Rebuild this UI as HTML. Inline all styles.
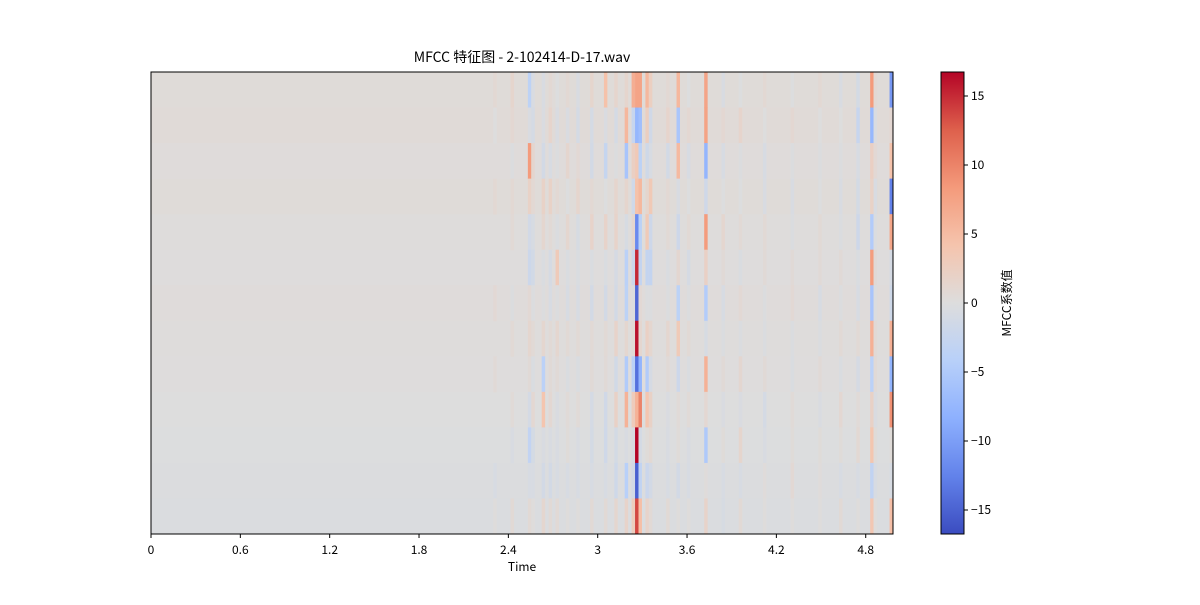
<!DOCTYPE html>
<html><head><meta charset="utf-8">
<style>
body{margin:0;background:#fff;}
svg text{font-family:"WenQuanYi Zen Hei","Noto Sans CJK SC",sans-serif;fill:#000;}
</style></head>
<body>
<svg id="chart" width="1200" height="600" xmlns="http://www.w3.org/2000/svg">
<defs>
<linearGradient id="cbgrad" x1="0" y1="1" x2="0" y2="0">
<stop offset="0" stop-color="rgb(59,76,192)"/>
<stop offset="0.125" stop-color="rgb(98,130,234)"/>
<stop offset="0.25" stop-color="rgb(141,176,254)"/>
<stop offset="0.375" stop-color="rgb(184,208,249)"/>
<stop offset="0.5" stop-color="rgb(221,221,221)"/>
<stop offset="0.625" stop-color="rgb(245,196,173)"/>
<stop offset="0.75" stop-color="rgb(244,154,123)"/>
<stop offset="0.875" stop-color="rgb(222,96,76)"/>
<stop offset="1" stop-color="rgb(180,4,38)"/>
</linearGradient>
</defs>
<text x="522" y="62" font-size="14" text-anchor="middle">MFCC 特征图 - 2-102414-D-17.wav</text>
<g id="heat"></g>
<rect x="151" y="72" width="742" height="462" fill="none" stroke="#000" stroke-width="1"/>
<g id="xaxis"></g>
<text x="522" y="571" font-size="12" text-anchor="middle">Time</text>
<rect x="941" y="72" width="23" height="462" fill="url(#cbgrad)" stroke="#000" stroke-width="1"/>
<g id="cbaxis"></g>
<text transform="translate(1011,303) rotate(-90)" font-size="12" text-anchor="middle">MFCC系数值</text>
</svg>
<script>
// data
const xTicks = [0, 0.6, 1.2, 1.8, 2.4, 3.0, 3.6, 4.2, 4.8];
const xTickLabels = ["0","0.6","1.2","1.8","2.4","3","3.6","4.2","4.8"];
const cbTicks = [15, 10, 5, 0, -5, -10, -15];
const vmin = -16.74, vmax = 16.74;
const frameDur = 0.02322;
const nFrames = 214;
const nRows = 13;
// display rows top -> bottom; baseline tint per row
const rowBase = [0.4, 0.5, 0.3, 0.4, 0.2, 0.1, 0.3, 0.2, 0.1, 0.0, -0.1, -0.2, -0.3];
// notable time columns (seconds) and their values per row (top -> bottom)
const eventTimes = [2.29, 2.41, 2.52, 2.55, 2.62, 2.66, 2.72, 2.78, 2.85, 2.94, 3.05, 3.12, 3.17, 3.22, 3.25, 3.28, 3.31, 3.35, 3.45, 3.53, 3.6, 3.71, 3.82, 3.95, 4.1, 4.3, 4.48, 4.62, 4.74, 4.82, 4.86, 4.97];
const eventVals = [
 [0.5,-0.5,0,0.5,0,0,0.5,0,0.5,0,0,-0.5,0.5],
 [1,0.5,-0.5,0.5,0.5,0,-0.5,0.5,0,0.5,-0.5,0,1],
 [-4,-1,8,1.5,-1.5,-2,0.5,1,0.5,-1,-3,-0.5,1],
 [-1,-1.5,1,0.5,-1,-1.5,-0.5,0.5,-0.5,1,-1,-0.5,0.5],
 [-1,-1,-1.5,1.5,1,-0.5,-0.5,1,-4,4,-0.5,-1,1.5],
 [0.5,1,-1,1.5,0.5,-1,-1,0.5,0.5,1,-0.5,-1,1],
 [-0.5,-1,-0.5,0.5,-0.5,3,-0.5,1,0.5,-0.5,-0.5,-0.5,1],
 [0.5,-1,1,-0.5,1,-0.5,-1,0.5,-0.5,0.5,0.5,-0.5,0.5],
 [-1,-1.5,0.5,1,-1,-0.5,-1,0.5,-0.5,0.5,-0.5,-0.5,0.5],
 [1,-1.5,-1.5,0.5,1.5,-0.5,-1.5,0.5,0.5,-1,-1,-0.5,1],
 [4,-1,-3,-0.5,1.5,-0.5,-1.5,0.5,0.5,-1.5,-1.5,-0.5,1],
 [1,-1.5,-0.5,1,1.5,-1,-1.5,1.5,-1.5,2,-1,-1.5,1.5],
 [1,5,-6,1,-1,-4,-4,1,-5,6,-0.5,-4,2],
 [6,-3,2,-2,1,-2,-0.5,0.5,-4,3,-0.5,-1,3],
 [7,-8,3,4,-12,15,-15,16,-14,6,17,-15,14],
 [7,-7,-4,5,-4,-3,0.5,1,-8,10,-1,-3,5],
 [5,2,-2,1,3,-3,-0.5,2,-5,4,0.5,-2,2],
 [2,-2,-1,3,-2,-3,-0.5,1,-1,2,1,-1,1],
 [0.5,1,-1.5,0.5,0.5,-0.5,-0.5,1,0.5,-0.5,-0.5,-0.5,1],
 [5,-6,5,-1,-2,1,-4,3,-2,0.5,0.5,-1,0.5],
 [-0.5,0.5,-1,-0.5,0.5,-1,-0.5,0.5,-0.5,0.5,-0.5,-0.5,0.5],
 [7,7,-8,-2,8,2,-5,-1,6,1,-5,0.5,2],
 [-1,0.5,-1,-0.5,1,0.5,-1,-0.5,0.5,-0.5,0.5,-0.5,-0.5],
 [-0.5,1,-0.5,-0.5,0.5,-0.5,0.5,-0.5,1,-0.5,1.5,-0.5,1],
 [0.5,-0.5,-1,-1,0.5,0.5,-0.5,-0.5,0.5,-1,-0.5,0.5,0.5],
 [-0.5,0.5,-0.5,-1,-0.5,0.5,0.5,-0.5,-0.5,0.5,0.5,1,0.5],
 [0.5,-0.5,-0.5,-0.5,0.5,0.5,-1,-0.5,0.5,-0.5,0.5,0.5,0.5],
 [-1,-0.5,-0.5,-1,-0.5,0.5,-0.5,0.5,-0.5,1,0.5,-0.5,1],
 [-1.5,-3,-1,-1.5,-2,-0.5,-1,0.5,-1,0.5,1,-0.5,0.5],
 [8,-8,2,1.5,-5,8,-6,6,-4,2,4,-3,4],
 [0.5,-1,0.5,-1,-0.5,0.5,-0.5,0.5,0.5,-0.5,0.5,-0.5,0.5],
 [-11,0.5,4,-13,7,-1,-2,6,-8,9,0.5,-0.5,5]
];
</script>
<script>
const NS = "http://www.w3.org/2000/svg";
const px0 = 151, pxPerSec = 148.9, top0 = 72, plotH = 462, plotR = 893;
function xScale(t){ return px0 + t * pxPerSec; }
function cbScale(v){ return top0 + (vmax - v) / (vmax - vmin) * plotH; }
const stops = [[0,59,76,192],[0.125,98,130,234],[0.25,141,176,254],[0.375,184,208,249],[0.5,221,221,221],[0.625,245,196,173],[0.75,244,154,123],[0.875,222,96,76],[1,180,4,38]];
function cmap(v){
  let t = (v - vmin) / (vmax - vmin); t = Math.max(0, Math.min(1, t));
  for (let i = 1; i < stops.length; i++) {
    if (t <= stops[i][0]) {
      const a = stops[i-1], b = stops[i], f = (t - a[0]) / (b[0] - a[0]);
      return `rgb(${Math.round(a[1]+(b[1]-a[1])*f)},${Math.round(a[2]+(b[2]-a[2])*f)},${Math.round(a[3]+(b[3]-a[3])*f)})`;
    }
  }
  return "rgb(180,4,38)";
}
const heat = document.getElementById("heat");
const rowH = plotH / nRows;
for (let r = 0; r < nRows; r++) {
  const rect = document.createElementNS(NS, "rect");
  
  
  rect.setAttribute("x", px0); rect.setAttribute("y", top0 + r * rowH);
  rect.setAttribute("width", plotR - px0); rect.setAttribute("height", rowH + 0.5);
  rect.setAttribute("fill", cmap(rowBase[r]));
  heat.appendChild(rect);
}
const colW = frameDur * pxPerSec;
for (let i = 0; i < eventTimes.length; i++) {
  const frame = Math.round(eventTimes[i] / frameDur);
  const x = Math.min(xScale(frame * frameDur), plotR - colW);
  for (let r = 0; r < nRows; r++) {
    const v = eventVals[i][r];
    if (v === 0) continue;
    const rect = document.createElementNS(NS, "rect");
    
    
    rect.setAttribute("x", x); rect.setAttribute("y", top0 + r * rowH);
    rect.setAttribute("width", colW); rect.setAttribute("height", rowH + 0.5);
    rect.setAttribute("fill", cmap(v + rowBase[r]));
    heat.appendChild(rect);
  }
}
const xa = document.getElementById("xaxis");
xTicks.forEach((t, i) => {
  const x = xScale(t);
  const ln = document.createElementNS(NS, "line");
  
  
  ln.setAttribute("x1", x); ln.setAttribute("x2", x); ln.setAttribute("y1", 534); ln.setAttribute("y2", 538);
  ln.setAttribute("stroke", "#000");
  xa.appendChild(ln);
  const tx = document.createElementNS(NS, "text");
  
  
  tx.setAttribute("x", x); tx.setAttribute("y", 554); tx.setAttribute("font-size", "12");
  tx.setAttribute("text-anchor", "middle");
  tx.textContent = xTickLabels[i];
  xa.appendChild(tx);
});
const ca = document.getElementById("cbaxis");
cbTicks.forEach(v => {
  const y = cbScale(v);
  const ln = document.createElementNS(NS, "line");
  
  
  ln.setAttribute("x1", 964); ln.setAttribute("x2", 968); ln.setAttribute("y1", y); ln.setAttribute("y2", y);
  ln.setAttribute("stroke", "#000");
  ca.appendChild(ln);
  const tx = document.createElementNS(NS, "text");
  
  
  tx.setAttribute("x", 971); tx.setAttribute("y", y + 4); tx.setAttribute("font-size", "12");
  tx.textContent = v < 0 ? "\u2212" + Math.abs(v) : String(v);
  ca.appendChild(tx);
});
</script>
</body></html>
